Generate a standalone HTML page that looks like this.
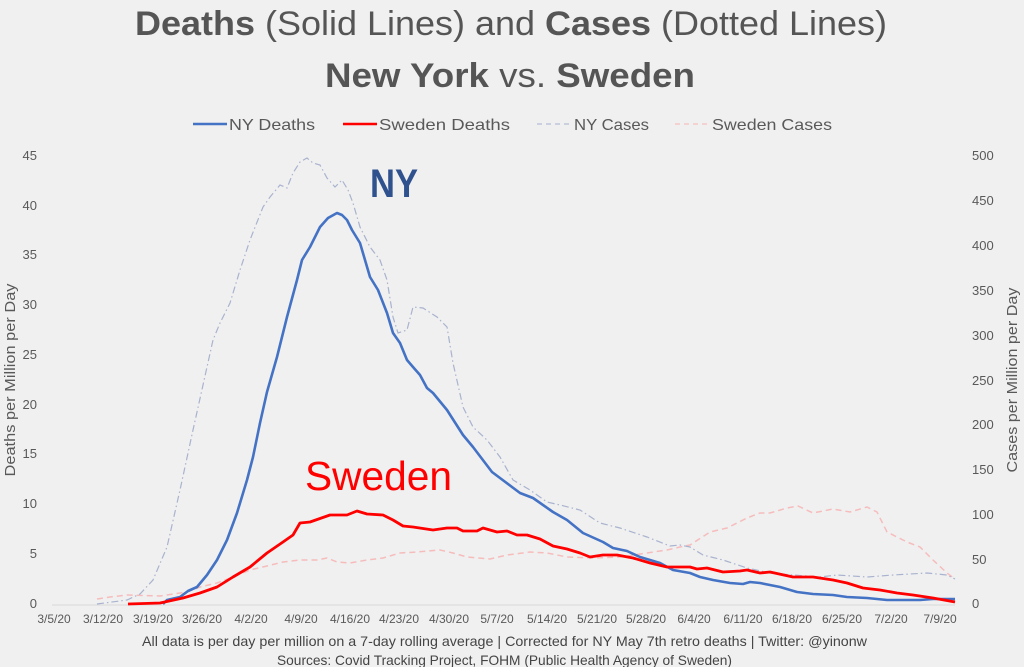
<!DOCTYPE html>
<html>
<head>
<meta charset="utf-8">
<style>
html,body{margin:0;padding:0;background:#f0f0f0;}
svg{display:block;}
text{font-family:"Liberation Sans",sans-serif;}
</style>
</head>
<body>
<svg width="1024" height="667" viewBox="0 0 1024 667" xmlns="http://www.w3.org/2000/svg">
<rect width="1024" height="667" fill="#f0f0f0"/>
<!-- Title -->
<text x="135" y="35" font-size="34" fill="#555" textLength="752" lengthAdjust="spacingAndGlyphs"><tspan font-weight="bold">Deaths</tspan> (Solid Lines) and <tspan font-weight="bold">Cases</tspan> (Dotted Lines)</text>
<text x="325" y="87" font-size="34" fill="#555" textLength="370" lengthAdjust="spacingAndGlyphs"><tspan font-weight="bold">New York</tspan>  vs. <tspan font-weight="bold">Sweden</tspan></text>
<!-- Legend -->
<line x1="193" y1="124" x2="227" y2="124" stroke="#4472c4" stroke-width="2.5"/>
<text x="229" y="130" font-size="16" fill="#595959" textLength="86" lengthAdjust="spacingAndGlyphs">NY Deaths</text>
<line x1="343" y1="124" x2="377" y2="124" stroke="#ff0000" stroke-width="2.5"/>
<text x="379" y="130" font-size="16" fill="#595959" textLength="131" lengthAdjust="spacingAndGlyphs">Sweden Deaths</text>
<line x1="537" y1="124" x2="571" y2="124" stroke="#b4bdd6" stroke-width="1.2" stroke-dasharray="5 4"/>
<text x="574" y="130" font-size="16" fill="#595959" textLength="75" lengthAdjust="spacingAndGlyphs">NY Cases</text>
<line x1="675" y1="124" x2="710" y2="124" stroke="#f6c0c0" stroke-width="1.2" stroke-dasharray="5 4"/>
<text x="712" y="130" font-size="16" fill="#595959" textLength="120" lengthAdjust="spacingAndGlyphs">Sweden Cases</text>

<!-- Left axis labels -->
<g font-size="13" fill="#595959" text-anchor="end">
<text x="37" y="160">45</text>
<text x="37" y="210">40</text>
<text x="37" y="259">35</text>
<text x="37" y="309">30</text>
<text x="37" y="359">25</text>
<text x="37" y="409">20</text>
<text x="37" y="458">15</text>
<text x="37" y="508">10</text>
<text x="37" y="558">5</text>
<text x="37" y="608">0</text>
</g>
<!-- Right axis labels -->
<g font-size="13" fill="#595959" text-anchor="start">
<text x="972" y="160">500</text>
<text x="972" y="205">450</text>
<text x="972" y="250">400</text>
<text x="972" y="295">350</text>
<text x="972" y="340">300</text>
<text x="972" y="385">250</text>
<text x="972" y="429">200</text>
<text x="972" y="474">150</text>
<text x="972" y="519">100</text>
<text x="972" y="564">50</text>
<text x="972" y="608">0</text>
</g>
<text transform="translate(15,380) rotate(-90)" font-size="15" fill="#595959" text-anchor="middle" textLength="193" lengthAdjust="spacingAndGlyphs">Deaths per Million per Day</text>
<text transform="translate(1017,380) rotate(-90)" font-size="15" fill="#595959" text-anchor="middle" textLength="185" lengthAdjust="spacingAndGlyphs">Cases per Million per Day</text>

<!-- X axis -->
<line x1="52" y1="605" x2="955" y2="605" stroke="#d9d9d9" stroke-width="1"/>
<g font-size="12" fill="#595959" text-anchor="middle">
<text x="54" y="623">3/5/20</text>
<text x="103" y="623">3/12/20</text>
<text x="153" y="623">3/19/20</text>
<text x="202" y="623">3/26/20</text>
<text x="251" y="623">4/2/20</text>
<text x="301" y="623">4/9/20</text>
<text x="350" y="623">4/16/20</text>
<text x="399" y="623">4/23/20</text>
<text x="449" y="623">4/30/20</text>
<text x="497" y="623">5/7/20</text>
<text x="547" y="623">5/14/20</text>
<text x="597" y="623">5/21/20</text>
<text x="646" y="623">5/28/20</text>
<text x="694" y="623">6/4/20</text>
<text x="743" y="623">6/11/20</text>
<text x="792" y="623">6/18/20</text>
<text x="842" y="623">6/25/20</text>
<text x="891" y="623">7/2/20</text>
<text x="940" y="623">7/9/20</text>
</g>

<!-- Footer -->
<text x="142" y="646" font-size="14" fill="#444" textLength="725" lengthAdjust="spacingAndGlyphs">All data is per day per million on a 7-day rolling average | Corrected for NY May 7th retro deaths | Twitter: @yinonw</text>
<text x="277" y="665" font-size="14" fill="#444" textLength="455" lengthAdjust="spacingAndGlyphs">Sources: Covid Tracking Project, FOHM (Public Health Agency of Sweden)</text>

<!-- Series -->
<polyline fill="none" stroke="#f6bcbc" stroke-width="1.5" stroke-dasharray="6 4" points="97,599 110,597 127,595 160,596 187,592 200,587 217,583 233,577 250,570 267,566 283,562 300,560 317,560 327,558 337,562 350,563 367,560 383,558 400,553 417,552 440,550 453,553 467,557 490,559 507,555 530,552 547,553 567,557 593,558 620,557 647,553 667,550 680,547 690,545 710,532 727,528 747,518 760,513 770,513 787,508 798,506 813,513 833,509 850,512 867,507 877,512 887,532 907,542 920,547 933,560 947,573 955,579"/>
<polyline fill="none" stroke="#a9b3cf" stroke-width="1.2" stroke-dasharray="7 3 1.5 3" points="97,604 127,600 140,594 153,580 167,547 180,490 193,430 203,385 213,340 220,323 230,303 240,270 250,240 263,207 270,197 280,185 287,188 293,173 300,162 307,158 313,163 320,165 327,178 335,187 342,180 348,190 353,203 360,227 370,247 380,260 387,280 393,317 398,333 407,330 413,307 423,308 437,317 447,327 453,363 463,407 473,427 487,440 500,457 513,480 530,490 547,502 560,505 580,510 600,523 620,528 647,537 670,546 680,545 690,547 703,555 723,560 747,568 770,573 793,575 820,577 837,575 867,577 893,575 927,573 947,575 955,579"/>
<polyline fill="none" stroke="#4472c4" stroke-width="2.6" stroke-linejoin="round" points="163,604 167,600 180,597 188,591 197,587 207,575 217,560 227,540 237,513 247,480 253,457 260,423 267,392 277,357 287,317 297,280 302,260 310,247 320,227 328,218 337,213 342,215 347,220 352,230 360,243 370,277 378,290 387,313 393,333 400,343 407,360 413,367 420,375 427,388 433,393 447,410 463,435 473,447 492,472 500,478 520,493 533,498 553,512 567,520 583,533 603,542 613,548 627,551 640,557 660,563 673,570 690,573 700,577 713,580 730,583 743,584 750,582 760,583 780,587 797,592 813,594 833,595 847,597 867,598 887,600 920,600 933,599 955,599"/>
<polyline fill="none" stroke="#ff0000" stroke-width="2.8" stroke-linejoin="round" points="128,604 160,603 183,598 200,593 217,587 233,577 250,567 267,553 283,542 293,535 300,523 310,522 330,515 347,515 357,511 367,514 383,515 393,520 403,526 413,527 433,530 447,528 457,528 463,531 477,531 483,528 497,532 507,531 517,535 527,535 540,539 553,546 567,549 580,553 590,557 603,555 617,555 633,558 650,563 667,567 690,567 697,569 707,568 723,572 740,571 747,570 760,573 770,572 793,577 813,577 833,580 847,583 863,588 880,590 897,593 913,595 933,598 955,602"/>

<!-- Annotations -->
<text x="370" y="197" font-size="40" font-weight="bold" fill="#2f528f" textLength="48" lengthAdjust="spacingAndGlyphs">NY</text>
<text x="305" y="490" font-size="41" fill="#ff0000" textLength="147" lengthAdjust="spacingAndGlyphs">Sweden</text>
</svg>
</body>
</html>
